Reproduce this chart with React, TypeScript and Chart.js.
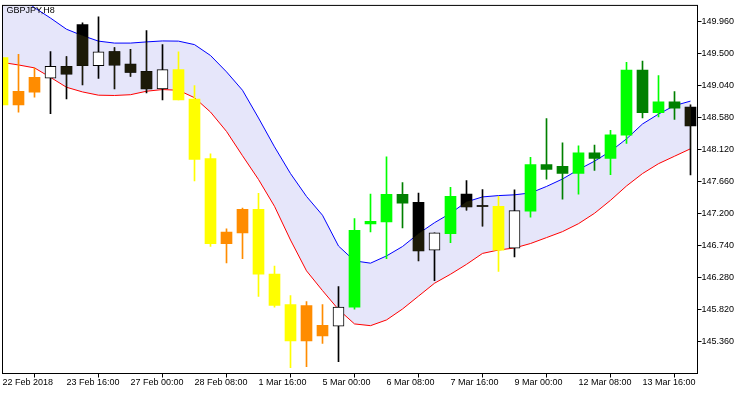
import { useEffect, useRef } from 'react';
import { Chart, registerables } from 'chart.js';

Chart.register(...registerables);

const title = 'GBPJPY,H8';

const xTickLabels = [
  '22 Feb 2018', '23 Feb 16:00', '27 Feb 00:00', '28 Feb 08:00', '1 Mar 16:00',
  '5 Mar 00:00', '6 Mar 08:00', '7 Mar 16:00', '9 Mar 00:00', '12 Mar 08:00', '13 Mar 16:00',
];

const yTicks = [145.36, 145.82, 146.28, 146.74, 147.2, 147.66, 148.12, 148.58, 149.04, 149.5, 149.96];

const opens = [
  149.440, 148.761, 148.942, 149.145, 149.312, 149.914, 149.322, 149.526, 149.345, 149.241,
  148.989, 149.265, 148.842, 147.988, 146.767, 146.924, 147.261, 146.331, 145.894, 145.372,
  145.443, 145.585, 145.856, 147.052, 147.080, 147.475, 147.361, 146.673, 146.910, 147.479,
  147.306, 147.304, 146.702, 147.233, 147.902, 147.878, 147.778, 148.073, 147.992, 148.325,
  149.259, 148.647, 148.804, 148.728,
];
const highs = [
  149.440, 149.487, 149.288, 149.526, 149.454, 149.939, 150.024, 149.583, 149.558, 149.825,
  149.625, 149.521, 149.037, 148.059, 146.981, 147.280, 147.489, 146.445, 146.022, 145.937,
  145.894, 146.151, 147.129, 147.479, 148.016, 147.646, 147.494, 146.924, 147.575, 147.674,
  147.546, 147.446, 147.542, 148.006, 148.562, 148.216, 148.173, 148.183, 148.396, 149.369,
  149.388, 149.180, 148.952, 148.761,
];
const lows = [
  148.761, 148.657, 148.871, 148.633, 148.846, 149.046, 149.141, 148.989, 149.170, 148.932,
  148.832, 148.832, 147.670, 146.730, 146.492, 146.554, 146.012, 145.856, 144.987, 145.001,
  145.335, 145.073, 145.827, 146.938, 146.554, 146.995, 146.521, 146.236, 146.781, 147.247,
  147.019, 146.368, 146.578, 147.147, 147.693, 147.408, 147.479, 147.821, 147.760, 148.206,
  148.572, 148.586, 148.553, 147.756,
];
const closes = [
  148.761, 148.956, 149.155, 149.312, 149.202, 149.322, 149.521, 149.331, 149.227, 148.989,
  149.265, 148.832, 147.978, 146.767, 146.934, 147.261, 146.331, 145.880, 145.372, 145.880,
  145.595, 145.856, 146.958, 147.090, 147.475, 147.351, 146.663, 146.924, 147.446, 147.294,
  147.302, 146.673, 147.243, 147.902, 147.835, 147.778, 148.073, 147.992, 148.329, 149.259,
  148.647, 148.804, 148.714, 148.458,
];
const zones = [
  'down', 'down', 'down', 'mid', 'mid', 'mid', 'mid', 'mid', 'mid', 'mid',
  'mid', 'down', 'down', 'down', 'down', 'down', 'down', 'down', 'down', 'down',
  'down', 'mid', 'up', 'up', 'up', 'up', 'mid', 'mid', 'up', 'mid',
  'mid', 'down', 'mid', 'up', 'up', 'up', 'up', 'up', 'up', 'up',
  'up', 'up', 'up', 'mid',
];
const upperBand = [
  150.515, 150.333, 150.155, 150.006, 149.846, 149.754, 149.675, 149.647, 149.647, 149.664,
  149.678, 149.675, 149.625, 149.469, 149.234, 148.970, 148.572, 148.158, 147.774, 147.446,
  147.176, 146.734, 146.521, 146.488, 146.592, 146.727, 146.912, 147.069, 147.204, 147.368,
  147.439, 147.458, 147.469, 147.496, 147.589, 147.696, 147.831, 147.952, 148.094, 148.272,
  148.486, 148.628, 148.750, 148.814,
];
const lowerBand = [
  149.369, 149.333, 149.291, 149.155, 149.013, 148.946, 148.899, 148.895, 148.906, 148.956,
  148.980, 148.970, 148.863, 148.657, 148.379, 148.030, 147.689, 147.304, 146.820, 146.378,
  146.094, 145.823, 145.616, 145.591, 145.673, 145.830, 146.015, 146.200, 146.329, 146.471,
  146.628, 146.677, 146.706, 146.770, 146.855, 146.941, 147.055, 147.204, 147.390, 147.596,
  147.774, 147.916, 148.023, 148.130,
];

const FONT = '"Liberation Sans", Arial, sans-serif';

function bodyColor(i: number): string {
  const bull = closes[i] >= opens[i];
  if (zones[i] === 'up') return bull ? '#00ff00' : '#008000';
  if (zones[i] === 'down') return bull ? '#ff8c00' : '#ffff00';
  return bull ? '#ffffff' : '#000000';
}
function isBlack(i: number) {
  return zones[i] === 'mid' && closes[i] < opens[i];
}
function isWhite(i: number) {
  return zones[i] === 'mid' && closes[i] >= opens[i];
}

const frameAndTitle = {
  id: 'frameAndTitle',
  afterDatasetsDraw(chart: any) {
    const ctx = chart.ctx;
    const a = chart.chartArea;
    const up = chart.getDatasetMeta(0).data;
    const lo = chart.getDatasetMeta(1).data;
    const wicks = chart.getDatasetMeta(2).data;
    const bodies = chart.getDatasetMeta(3).data;
    ctx.save();
    ctx.beginPath();
    ctx.rect(a.left, a.top, a.right - a.left, a.bottom - a.top);
    ctx.clip();
    ctx.beginPath();
    up.forEach((p: any, i: number) => (i ? ctx.lineTo(p.x, p.y) : ctx.moveTo(p.x, p.y)));
    for (let i = lo.length - 1; i >= 0; i--) ctx.lineTo(lo[i].x, lo[i].y);
    ctx.closePath();
    ctx.clip();
    ctx.fillStyle = '#1c1a08';
    for (let i = 0; i < bodies.length; i++) {
      if (!isBlack(i)) continue;
      for (const el of [wicks[i], bodies[i]]) {
        const { x, y, base, width } = el.getProps(['x', 'y', 'base', 'width'], true);
        const top = Math.min(y, base);
        const h = Math.max(Math.abs(base - y), 1);
        ctx.fillRect(x - width / 2, top, width, h);
      }
    }
    ctx.restore();
  },
  afterDraw(chart: any) {
    const ctx = chart.ctx;
    const a = chart.chartArea;
    ctx.save();
    ctx.strokeStyle = '#000';
    ctx.lineWidth = 1;
    ctx.strokeRect(a.left, a.top, a.right - a.left, a.bottom - a.top);
    ctx.fillStyle = '#000';
    ctx.font = '9px ' + FONT;
    ctx.textBaseline = 'alphabetic';
    ctx.textAlign = 'left';
    ctx.fillText(title, 6.5, 12.5);
    ctx.restore();
  },
};

export default function App() {
  const ref = useRef<HTMLCanvasElement>(null);
  useEffect(() => {
    if (!ref.current) return;
    const idx = opens.map((_, i) => i);
    const chart = new Chart(ref.current, {
      type: 'bar',
      data: {
        datasets: [
          {
            type: 'line',
            label: 'upper',
            data: idx.map((i) => ({ x: i, y: upperBand[i] })),
            borderColor: '#0000ff',
            borderWidth: 1,
            pointRadius: 0,
            tension: 0,
            fill: '+1',
            backgroundColor: '#e6e6fa',
            order: 4,
          } as any,
          {
            type: 'line',
            label: 'lower',
            data: idx.map((i) => ({ x: i, y: lowerBand[i] })),
            borderColor: '#ff0000',
            borderWidth: 1,
            pointRadius: 0,
            tension: 0,
            fill: false,
            order: 3,
          } as any,
          {
            type: 'bar',
            label: 'wicks',
            data: idx.map((i) => ({ x: i, y: [lows[i], highs[i]] })),
            backgroundColor: idx.map((i) => (isWhite(i) ? '#000000' : bodyColor(i))),
            borderWidth: 0,
            barThickness: 1,
            minBarLength: 1,
            grouped: false,
            order: 2,
          } as any,
          {
            type: 'bar',
            label: 'bodies',
            data: idx.map((i) => ({ x: i, y: [opens[i], closes[i]] })),
            backgroundColor: idx.map((i) => bodyColor(i)),
            borderColor: '#000000',
            borderWidth: idx.map((i) => (isWhite(i) ? 1 : 0)),
            borderSkipped: false,
            barThickness: 11,
            minBarLength: 1,
            grouped: false,
            order: 1,
          } as any,
        ],
      },
      options: {
        animation: false,
        responsive: false,
        devicePixelRatio: 1,
        events: [],
        layout: { padding: { left: 2.5, top: 2.5, right: 0, bottom: 0 }, autoPadding: false } as any,
        plugins: { legend: { display: false }, tooltip: { enabled: false }, title: { display: false } },
        scales: {
          x: {
            type: 'linear',
            position: 'bottom',
            min: 0,
            max: 43.4375,
            offset: false,
            grid: { display: true, drawOnChartArea: false, drawTicks: true, tickLength: 4, color: '#000' },
            border: { display: true, color: '#000' },
            afterBuildTicks: (s: any) => {
              s.ticks = xTickLabels.map((_, j) => ({ value: j * 4 }));
            },
            afterFit: (s: any) => {
              s.height = 20.5;
            },
            ticks: {
              autoSkip: false,
              maxRotation: 0,
              minRotation: 0,
              align: 'start',
              padding: 0,
              color: '#000',
              font: { family: FONT, size: 9 },
              callback: (v: any) => xTickLabels[Math.round(Number(v) / 4)] ?? '',
            },
          },
          y: {
            type: 'linear',
            position: 'right',
            min: 144.9044,
            max: 150.1879,
            grid: { display: true, drawOnChartArea: false, drawTicks: true, tickLength: 4, color: '#000' },
            border: { display: true, color: '#000' },
            afterBuildTicks: (s: any) => {
              s.ticks = yTicks.map((v) => ({ value: v }));
            },
            afterFit: (s: any) => {
              s.width = 52.5;
            },
            ticks: {
              autoSkip: false,
              padding: 0,
              color: '#000',
              font: { family: FONT, size: 9 },
              callback: (v: any) => Number(v).toFixed(3),
            },
          },
        },
      } as any,
      plugins: [frameAndTitle],
    });
    return () => chart.destroy();
  }, []);
  return (
    <div style={{ position: 'fixed', left: 0, top: 0, width: 750, height: 394, background: '#fff' }}>
      <canvas ref={ref} width={750} height={394} style={{ display: 'block', width: 750, height: 394 }} />
    </div>
  );
}
